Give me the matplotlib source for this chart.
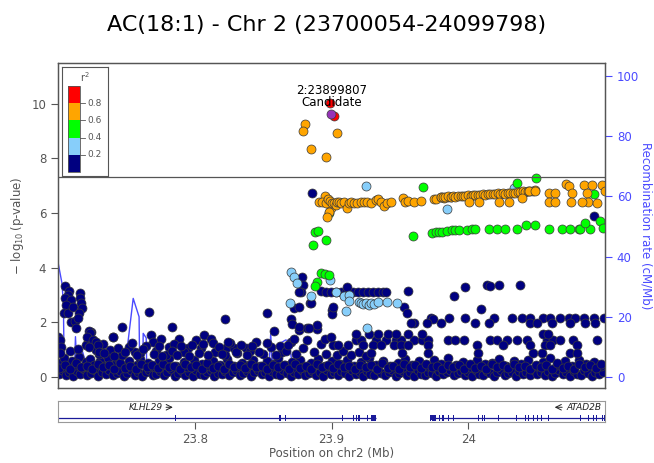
import matplotlib
matplotlib.use("Agg")
import matplotlib.pyplot as plt
from matplotlib.patches import Rectangle

title = "AC(18:1) - Chr 2 (23700054-24099798)"
region = (23.700054, 24.099798)

# r2 colour classes
r2_colors = ["#000080", "#87CEFA", "#00FF00", "#FFA500", "#FF0000"]
r2_ticks = [0.2, 0.4, 0.6, 0.8]

lead_pos = [23.899807]
lead_logp = [9.62]
lead_name = "2:23899807"

red_pos = [23.8988, 23.9017]
red_logp = [10.01, 9.55]

orange_pos = [
    23.8805, 23.8793, 23.9036, 23.8852, 23.8956,
    23.8949, 23.8993, 23.8980, 23.8968,
    23.8907, 23.8932, 23.8956, 23.8973, 23.8988, 23.9005, 23.9017, 23.9029, 23.9042,
    23.9053, 23.9066, 23.9090, 23.9115, 23.9126, 23.9139, 23.9163, 23.9188, 23.9212,
    23.9236, 23.9261, 23.9285, 23.9321, 23.9338, 23.9358, 23.9382, 23.9407, 23.9431,
    23.9525, 23.9535, 23.9560, 23.9600, 23.9650, 23.9745, 23.9766, 23.9801, 23.9822,
    23.9850, 23.9871,
    23.9796, 23.9814, 23.9832, 23.9850, 23.9869, 23.9887, 23.9905, 23.9923, 23.9942,
    23.9960, 23.9978, 23.9996, 24.0015, 24.0033, 24.0051, 24.0069, 24.0088, 24.0106,
    24.0124, 24.0142, 24.0161, 24.0179, 24.0197, 24.0215, 24.0234, 24.0252, 24.0270,
    24.0288, 24.0307, 24.0325, 24.0343, 24.0361, 24.0380, 24.0398, 24.0416, 24.0434,
    24.0453, 24.0471, 24.0489,
    24.0002, 24.0075, 24.0221, 24.0294, 24.0392, 24.0440, 24.0489,
    24.0587, 24.0635, 24.0587, 24.0635, 24.0715, 24.0732, 24.0757, 24.0750,
    24.0842, 24.0903, 24.0976, 24.0865, 24.0877, 24.0939, 24.0829, 24.0995,
]
orange_logp = [
    9.26, 9.01, 8.94, 8.33, 8.04,
    6.63, 6.17, 6.05, 5.87,
    6.39, 6.42, 6.36, 6.50, 6.44, 6.38, 6.35, 6.30, 6.42,
    6.39, 6.36, 6.40, 6.20, 6.35, 6.39, 6.38, 6.36, 6.40,
    6.39, 6.41, 6.37, 6.47, 6.50, 6.40, 6.25, 6.36, 6.40,
    6.55, 6.40, 6.45, 6.40, 6.43, 6.50, 6.53, 6.57, 6.55,
    6.57, 6.58,
    6.57, 6.59, 6.57, 6.61, 6.60, 6.62, 6.60, 6.63, 6.62,
    6.64, 6.63, 6.66, 6.64, 6.66, 6.65, 6.67, 6.66, 6.69,
    6.67, 6.70, 6.68, 6.71, 6.70, 6.72, 6.70, 6.73, 6.71,
    6.74, 6.72, 6.75, 6.74, 6.77, 6.76, 6.79, 6.78, 6.80,
    6.80, 6.82, 6.84,
    6.39, 6.39, 6.39, 6.41, 6.55, 6.80, 6.80,
    6.74, 6.72, 6.41, 6.41, 7.06, 6.99, 6.72, 6.41,
    7.02, 7.02, 7.02, 6.72, 6.39, 6.36, 6.39, 6.80,
]

green_pos = [
    23.9667, 24.0355, 24.0496, 24.0920,
    23.8980, 23.8878, 23.8903, 23.8864, 23.8961, 23.9593,
    23.9735, 23.9760, 23.9785, 23.9808, 23.9844, 23.9881, 23.9905, 23.9929,
    23.9990, 24.0027, 24.0051, 24.0148, 24.0209, 24.0270, 24.0355, 24.0423,
    24.0484, 24.0586, 24.0684, 24.0745, 24.0805, 24.0818, 24.0885, 24.0849,
    24.0958, 24.0983,
    23.8920, 23.8950, 23.8980, 23.8890, 23.8880,
]
green_logp = [
    6.94, 7.11, 7.29, 6.70,
    6.01, 5.29, 5.33, 4.83, 5.01, 5.15,
    5.28, 5.30, 5.30, 5.32, 5.36, 5.38, 5.38, 5.39,
    5.38, 5.40, 5.40, 5.40, 5.41, 5.41, 5.40, 5.55,
    5.55, 5.40, 5.40, 5.40, 5.41, 5.42, 5.40, 5.62,
    5.71, 5.44,
    3.79, 3.77, 3.73, 3.49, 3.33,
]

lightblue_pos = [
    23.9253, 23.9844, 24.0331,
    23.8700, 23.8725, 23.8750, 23.8988, 23.9030, 23.9090, 23.9130, 23.9126,
    23.9197, 23.9215, 23.9233, 23.9250, 23.9270, 23.9290, 23.9310, 23.9336,
    23.9407, 23.9480, 23.8696, 23.8847, 23.9102, 23.9255,
]
lightblue_logp = [
    7.00, 6.15, 6.90,
    3.83, 3.65, 3.45, 3.55, 3.10, 2.96, 3.00, 2.79,
    2.76, 2.70, 2.66, 2.72, 2.63, 2.70, 2.66, 2.76,
    2.76, 2.72, 2.70, 2.96, 2.43, 1.80,
]

# weakly linked SNPs, bottom rows
navy_low_pos = [
    23.7005, 23.7031, 23.7058, 23.7084, 23.7112, 23.7139, 23.7163, 23.7190, 23.7215, 23.7242,
    23.7270, 23.7295, 23.7321, 23.7350, 23.7376, 23.7402, 23.7430, 23.7455, 23.7481, 23.7508,
    23.7536, 23.7560, 23.7588, 23.7613, 23.7640, 23.7668, 23.7694, 23.7720, 23.7747, 23.7773,
    23.7800, 23.7826, 23.7853, 23.7880, 23.7905, 23.7932, 23.7958, 23.7985, 23.8012, 23.8038,
    23.8065, 23.8090, 23.8118, 23.8144, 23.8171, 23.8197, 23.8224, 23.8250, 23.8277, 23.8303,
    23.8330, 23.8356, 23.8383, 23.8410, 23.8436, 23.8462, 23.8489, 23.8515, 23.8542, 23.8568,
    23.8595, 23.8621, 23.8648, 23.8674, 23.8700, 23.8727, 23.8753, 23.8780, 23.8807, 23.8833,
    23.8860, 23.8886, 23.8913, 23.8940, 23.8966, 23.8992, 23.9019, 23.9045, 23.9072, 23.9098,
    23.9125, 23.9151, 23.9178, 23.9204, 23.9231, 23.9257, 23.9284, 23.9310, 23.9337, 23.9363,
    23.9390, 23.9416, 23.9443, 23.9470, 23.9496, 23.9522, 23.9549, 23.9575, 23.9602, 23.9628,
    23.9655, 23.9681, 23.9708, 23.9734, 23.9761, 23.9787, 23.9814, 23.9840, 23.9867, 23.9893,
    23.9920, 23.9946, 23.9973, 24.0000, 24.0026, 24.0053, 24.0079, 24.0106, 24.0132, 24.0159,
    24.0185, 24.0212, 24.0238, 24.0265, 24.0291, 24.0318, 24.0344, 24.0371, 24.0397, 24.0424,
    24.0450, 24.0477, 24.0503, 24.0530, 24.0556, 24.0583, 24.0609, 24.0636, 24.0662, 24.0689,
    24.0715, 24.0742, 24.0768, 24.0795, 24.0821, 24.0848, 24.0874, 24.0901, 24.0927, 24.0954,
    24.0980,
    23.7018, 23.7047, 23.7075, 23.7101, 23.7128, 23.7152, 23.7178, 23.7206, 23.7233, 23.7260,
    23.7310, 23.7338, 23.7365, 23.7418, 23.7445, 23.7497, 23.7522, 23.7575, 23.7602, 23.7655,
    23.7707, 23.7735, 23.7787, 23.7815, 23.7866, 23.7918, 23.7944, 23.7997, 23.8050, 23.8104,
    23.8131, 23.8185, 23.8236, 23.8290, 23.8343, 23.8396, 23.8423, 23.8476, 23.8528, 23.8581,
    23.8608, 23.8660, 23.8713, 23.8766, 23.8794, 23.8846, 23.8900, 23.8953, 23.9006, 23.9058,
    23.9112, 23.9165, 23.9218, 23.9270, 23.9323, 23.9377, 23.9430, 23.9483, 23.9536, 23.9588,
    23.9641, 23.9694, 23.9747, 23.9800, 23.9853, 23.9906, 23.9960, 24.0013, 24.0066, 24.0119,
    24.0172, 24.0225, 24.0278, 24.0330, 24.0384, 24.0437, 24.0490, 24.0543, 24.0596, 24.0649,
    24.0702, 24.0755, 24.0808, 24.0861, 24.0914, 24.0967,
    23.7010, 23.7050, 23.7090, 23.7130, 23.7170, 23.7210, 23.7250, 23.7290, 23.7330, 23.7370,
    23.7410, 23.7450, 23.7490, 23.7530, 23.7570, 23.7610, 23.7650, 23.7690, 23.7730, 23.7770,
    23.7810, 23.7850, 23.7890, 23.7930, 23.7970, 23.8010, 23.8050, 23.8090, 23.8130, 23.8170,
    23.8210, 23.8250, 23.8290, 23.8330, 23.8370, 23.8410, 23.8450, 23.8490, 23.8530, 23.8570,
    23.8610, 23.8650, 23.8690, 23.8730, 23.8770, 23.8810, 23.8850, 23.8890, 23.8930, 23.8970,
    23.9010, 23.9050, 23.9090, 23.9130, 23.9170, 23.9210, 23.9250, 23.9290, 23.9330, 23.9370,
    23.9410, 23.9450, 23.9490, 23.9530, 23.9570, 23.9610, 23.9650, 23.9690, 23.9730, 23.9770,
    23.9810, 23.9850, 23.9890, 23.9930, 23.9970, 24.0010, 24.0050, 24.0090, 24.0130, 24.0170,
    24.0210, 24.0250, 24.0290, 24.0330, 24.0370, 24.0410, 24.0450, 24.0490, 24.0530, 24.0570,
    24.0610, 24.0650, 24.0690, 24.0730, 24.0770, 24.0810, 24.0850, 24.0890, 24.0930, 24.0970,
]
navy_low_logp = [
    0.12, 0.25, 0.08, 0.18, 0.05, 0.22, 0.10, 0.28, 0.06, 0.15,
    0.24, 0.04, 0.19, 0.11, 0.27, 0.07, 0.16, 0.23, 0.05, 0.14,
    0.26, 0.09, 0.20, 0.03, 0.17, 0.25, 0.08, 0.13, 0.21, 0.06,
    0.18, 0.28, 0.04, 0.15, 0.22, 0.09, 0.19, 0.05, 0.24, 0.12,
    0.07, 0.20, 0.27, 0.03, 0.16, 0.11, 0.23, 0.06, 0.18, 0.25,
    0.08, 0.14, 0.21, 0.04, 0.17, 0.26, 0.10, 0.19, 0.05, 0.22,
    0.13, 0.07, 0.24, 0.15, 0.03, 0.20, 0.11, 0.27, 0.06, 0.16,
    0.23, 0.09, 0.18, 0.04, 0.25, 0.12, 0.19, 0.07, 0.22, 0.14,
    0.05, 0.26, 0.10, 0.17, 0.03, 0.21, 0.13, 0.08, 0.24, 0.15,
    0.06, 0.19, 0.27, 0.04, 0.16, 0.22, 0.09, 0.18, 0.05, 0.25,
    0.12, 0.07, 0.20, 0.14, 0.03, 0.23, 0.10, 0.17, 0.26, 0.06,
    0.15, 0.21, 0.08, 0.19, 0.04, 0.24, 0.13, 0.07, 0.22, 0.16,
    0.05, 0.18, 0.27, 0.09, 0.14, 0.20, 0.03, 0.23, 0.11, 0.17,
    0.06, 0.25, 0.12, 0.19, 0.08, 0.21, 0.04, 0.16, 0.26, 0.10,
    0.18, 0.05, 0.22, 0.13, 0.07, 0.24, 0.15, 0.03, 0.20, 0.11,
    0.17,
    0.52, 0.68, 0.41, 0.60, 0.45, 0.72, 0.38, 0.55, 0.66, 0.43,
    0.58, 0.40, 0.70, 0.48, 0.62, 0.39, 0.57, 0.44, 0.65, 0.50,
    0.37, 0.61, 0.46, 0.69, 0.42, 0.56, 0.38, 0.63, 0.47, 0.40,
    0.59, 0.44, 0.66, 0.39, 0.53, 0.45, 0.64, 0.41, 0.58, 0.48,
    0.70, 0.43, 0.55, 0.62, 0.38, 0.51, 0.67, 0.42, 0.57, 0.47,
    0.64, 0.40, 0.54, 0.69, 0.44, 0.60, 0.39, 0.52, 0.66, 0.45,
    0.58, 0.41, 0.63, 0.48, 0.70, 0.43, 0.56, 0.38, 0.61, 0.46,
    0.53, 0.67, 0.42, 0.59, 0.48, 0.64, 0.40, 0.55, 0.69, 0.44,
    0.58, 0.39, 0.62, 0.47, 0.54, 0.41,
    0.33, 0.45, 0.30, 0.50, 0.36, 0.42, 0.31, 0.48, 0.35, 0.44,
    0.29, 0.52, 0.34, 0.41, 0.30, 0.47, 0.36, 0.43, 0.32, 0.49,
    0.35, 0.42, 0.30, 0.46, 0.37, 0.44, 0.31, 0.50, 0.34, 0.41,
    0.29, 0.47, 0.36, 0.43, 0.32, 0.48, 0.35, 0.42, 0.30, 0.45,
    0.37, 0.44, 0.31, 0.49, 0.34, 0.41, 0.29, 0.46, 0.36, 0.43,
    0.32, 0.48, 0.35, 0.42, 0.30, 0.45, 0.37, 0.44, 0.31, 0.50,
    0.34, 0.41, 0.29, 0.47, 0.36, 0.43, 0.32, 0.48, 0.35, 0.42,
    0.30, 0.45, 0.37, 0.44, 0.31, 0.49, 0.34, 0.41, 0.29, 0.46,
    0.36, 0.43, 0.32, 0.48, 0.35, 0.42, 0.30, 0.45, 0.37, 0.44,
    0.31, 0.50, 0.34, 0.41, 0.29, 0.47, 0.36, 0.43, 0.32, 0.48,
]

# weakly linked SNPs standing above the bottom rows
navy_mid_pos = [
    23.7000, 23.7012, 23.7024, 23.7012, 23.7241, 23.7229, 23.7217, 23.7204, 23.7256, 23.7243,
    23.7280, 23.7399, 23.7380, 23.7561, 23.7680, 23.7692, 23.7753, 23.7814, 23.7887, 23.7948,
    23.8010, 23.8047, 23.8071, 23.8120, 23.8131, 23.8228, 23.8288, 23.8312, 23.8372, 23.8221,
    23.7090, 23.7150, 23.7300, 23.7330, 23.7470, 23.7520, 23.7600, 23.7640, 23.7720, 23.7790,
    23.7850, 23.7920, 23.7980, 23.8150, 23.8260, 23.8400, 23.8450, 23.8500, 23.8560, 23.8640,
    23.7224, 23.7236, 23.7209, 23.7253, 23.7277, 23.7290, 23.7229, 23.7301, 23.7338,
    23.7410, 23.7440, 23.7490, 23.7540, 23.7580, 23.7620, 23.7700, 23.7740, 23.7760, 23.7830,
    23.7870, 23.7900, 23.7960, 23.8030, 23.8060, 23.8100, 23.8180, 23.8200, 23.8240, 23.8300,
    23.8340, 23.8380, 23.8420, 23.8470, 23.8530, 23.8590, 23.8620, 23.8670, 23.8700, 23.8740,
    23.8790, 23.8820, 23.8870, 23.8920, 23.8960, 23.9040, 23.9080, 23.9140, 23.9200, 23.9250,
    23.9175, 23.9212, 23.9321, 23.9394, 23.9467, 23.9504, 23.9599, 23.9664, 23.9708, 23.9854,
    23.9905, 23.9964, 24.0161, 24.0212, 24.0285, 24.0358, 24.0431, 24.0577, 24.0620, 24.0672,
    24.0766, 24.0942,
    23.9175, 23.9270, 23.9336, 23.9409, 23.9467, 23.9555, 23.9664, 24.0547, 24.0584,
    23.9007, 23.9044, 23.9117, 23.9226, 23.9299, 23.9358, 23.9453, 23.9504, 23.9555, 23.9701,
    24.0066, 24.0255, 24.0453, 24.0562, 24.0599, 24.0796,
    23.9285, 23.9518, 23.9701, 24.0073, 24.0474, 24.0540, 24.0745, 24.0796,
    23.9723, 23.9856, 23.9978, 24.0185, 24.0319, 24.0392, 24.0448, 24.0542, 24.0599, 24.0672,
    24.0732, 24.0781, 24.0842, 24.0915, 24.0990,
    23.9601, 23.9796, 24.0051, 24.0148, 24.0453, 24.0501, 24.0611, 24.0745, 24.0854, 24.0927,
    24.0093, 23.9898, 23.9978, 24.0136, 24.0160, 24.0222, 24.0380, 24.0920,
    23.8786, 23.8793, 23.8774, 23.8760, 23.8859,
    23.8920, 23.8956, 23.8993, 23.9029, 23.9066, 23.9102, 23.9153, 23.9190, 23.9226, 23.9263,
    23.9299, 23.9336, 23.9372, 23.9394,
    23.9110, 23.9557, 23.9530, 23.9553, 23.9577, 23.8840, 23.8725, 23.8760, 23.8700, 23.8710,
    23.9740, 23.9698, 23.8760, 23.8820, 23.8896, 23.8847, 23.8896, 23.8834, 23.8951, 23.8993,
    23.9005, 23.9000, 23.9012, 23.8684, 23.8725, 23.8760, 23.8531, 23.8579, 23.8221, 23.7837,
    23.7467, 23.7666, 23.7399,
    23.7053, 23.7083, 23.7071, 23.7053, 23.7095, 23.7058, 23.7046, 23.7077, 23.7107, 23.7095,
    23.7126, 23.7131, 23.7161, 23.7161, 23.7168, 23.7175, 23.7156, 23.7144,
]
navy_mid_logp = [
    1.47, 1.35, 1.11, 0.87, 1.66, 1.47, 1.29, 1.17, 1.35, 1.17,
    0.99, 1.45, 0.99, 0.93, 1.54, 1.29, 1.38, 1.11, 1.41, 1.05,
    1.35, 1.05, 1.54, 1.41, 1.23, 1.05, 1.05, 0.87, 1.05, 0.80,
    0.95, 1.02, 0.85, 1.20, 0.82, 1.10, 0.88, 1.15, 0.95, 0.82,
    1.22, 0.90, 1.18, 0.90, 1.25, 0.95, 1.30, 0.85, 1.10, 0.92,
    1.68, 1.60, 1.47, 1.35, 1.29, 1.17, 1.11, 0.93, 0.87,
    0.78, 1.05, 0.92, 1.25, 0.80, 1.02, 0.85, 1.12, 0.78, 0.95,
    0.80, 1.15, 0.78, 0.88, 1.20, 0.80, 1.10, 0.85, 1.30, 0.92,
    1.18, 0.80, 1.12, 0.90, 1.25, 0.82, 1.15, 0.95, 1.30, 0.85,
    1.05, 1.35, 0.90, 1.20, 0.85, 0.80, 0.95, 0.80, 0.92, 0.78,
    1.35, 1.35, 1.35, 1.35, 1.35, 1.35, 1.35, 1.35, 1.35, 1.35,
    1.35, 1.35, 1.35, 1.35, 1.35, 1.35, 1.35, 1.35, 1.35, 1.35,
    1.35, 1.35,
    1.57, 1.57, 1.57, 1.57, 1.57, 1.57, 1.57, 1.57, 1.57,
    1.17, 1.17, 1.17, 1.17, 1.17, 1.17, 1.17, 1.17, 1.17, 1.17,
    1.17, 1.17, 1.17, 1.17, 1.17, 1.17,
    0.88, 0.88, 0.88, 0.88, 0.88, 0.88, 0.88, 0.88,
    2.17, 2.17, 2.17, 2.17, 2.17, 2.17, 2.17, 2.17, 2.17, 2.17,
    2.17, 2.17, 2.17, 2.17, 2.17,
    1.96, 1.96, 1.96, 1.96, 1.96, 1.96, 1.96, 1.96, 1.96, 1.96,
    2.48, 2.96, 3.30, 3.37, 3.33, 3.37, 3.37, 5.89,
    3.67, 3.37, 3.10, 3.12, 6.74,
    3.16, 3.12, 3.10, 3.10, 3.10, 3.10, 3.10, 3.10, 3.10, 3.10,
    3.10, 3.10, 3.10, 3.10,
    3.30, 3.16, 2.57, 2.33, 1.96, 2.72, 2.51, 2.57, 2.11, 1.94,
    2.11, 1.96, 1.72, 1.78, 1.74, 2.70, 1.90, 1.78, 1.41, 1.47,
    2.45, 2.30, 2.57, 1.17, 1.41, 1.84, 2.35, 1.69, 2.11, 1.84,
    1.84, 2.39, 1.45,
    3.33, 3.16, 3.00, 2.88, 2.82, 2.63, 2.33, 2.35, 2.57, 2.02,
    2.06, 1.78, 3.06, 2.88, 2.70, 2.51, 2.33, 2.15,
]

# recombination rate (cM/Mb)
recomb_pos = [
    23.7001, 23.7030, 23.7040, 23.7046, 23.7120, 23.7128, 23.7136, 23.7155, 23.7180,
    23.7195, 23.7217, 23.7480, 23.7484, 23.7550, 23.7593, 23.7598, 23.7620, 23.7623,
    23.7645, 23.7650, 23.8540, 23.8555, 23.8565, 23.8580, 23.8664, 23.8688, 23.8710,
    23.8730, 23.9110, 23.9125, 23.9140, 23.9160, 24.0300, 24.0997,
]
recomb_rate = [
    38.0, 31.0, 24.0, 1.0, 1.0, 13.4, 6.0, 4.0, 8.4,
    6.0, 0.5, 0.5, 1.0, 26.1, 20.0, 0.5, 0.5, 14.5,
    13.0, 0.5, 0.5, 14.5, 4.0, 10.0, 12.3, 12.0, 5.0,
    0.5, 0.5, 6.6, 6.6, 0.5, 0.3, 0.3,
]

# genes in the region
genes = ["KLHL29", "ATAD2B"]
gene_spans = [(23.700054, 23.9324), (23.9723, 24.099798)]
klhl29_exons = [23.7857, 23.8623, 23.8663, 23.9080, 23.9160, 23.9180, 23.9200,
                23.9264, 23.9290, 23.9300, 23.9310, 23.9320]
atad2b_exons = [23.9723, 23.9735, 23.9748, 23.9760, 23.9788, 23.9814, 23.9853,
                23.9892, 24.0075, 24.0101, 24.0120, 24.0219, 24.0350, 24.0416,
                24.0442, 24.0473, 24.0507, 24.0533, 24.0585, 24.0821, 24.0874,
                24.0912, 24.0939, 24.0978, 24.0995]

grey = "#555555"
rcol = "#4a4aff"
ymax_left = 11.5
ymin_left = -0.4
scale = 9.07  # recomb units per -log10(p) unit

fig = plt.figure(figsize=(6.54, 4.63), dpi=100)
fig.text(0.5, 0.945, title, ha="center", va="center", fontsize=16)

ax = fig.add_axes([0.0887, 0.162, 0.8364, 0.7026])
ax2 = ax.twinx()

ax2.plot(recomb_pos, recomb_rate, color=rcol, lw=1.0)
ax2.set_ylim(ymin_left * scale, ymax_left * scale)
ax2.set_yticks([0, 20, 40, 60, 80, 100])
ax2.tick_params(axis="y", colors=rcol, labelsize=8.5, length=5, width=0.8)
ax2.set_ylabel("Recombination rate (cM/Mb)", color=rcol, fontsize=8.5,
               rotation=270, va="center", ha="center")
ax2.yaxis.set_label_coords(1.075, 0.5)

ax.set_zorder(ax2.get_zorder() + 1)
ax.patch.set_visible(False)

pt = dict(s=42, edgecolors="#3a3a3a", linewidths=0.5)
ax.scatter(navy_low_pos, navy_low_logp, c=r2_colors[0], **pt)
ax.scatter(navy_mid_pos, navy_mid_logp, c=r2_colors[0], **pt)
ax.scatter(lightblue_pos, lightblue_logp, c=r2_colors[1], **pt)
ax.scatter(green_pos, green_logp, c=r2_colors[2], **pt)
ax.scatter(orange_pos, orange_logp, c=r2_colors[3], **pt)
ax.scatter(red_pos, red_logp, c=r2_colors[4], **pt)
ax.scatter(lead_pos, lead_logp, c="#9632b8", **pt)
ax.text(lead_pos[0], 10.48, lead_name, ha="center", va="center", fontsize=8.5)
ax.text(lead_pos[0], 10.04, "Candidate", ha="center", va="center", fontsize=8.5)

ax.axhline(7.30103, color=grey, lw=0.9)

ax.set_xlim(*region)
ax.set_ylim(ymin_left, ymax_left)
ax.set_yticks([0, 2, 4, 6, 8, 10])
ax.set_xticks([])
ax.tick_params(axis="y", colors=grey, labelsize=8.5, length=5, width=0.8)
ax.set_ylabel(r"$-\ \log_{10}$(p-value)", color=grey, fontsize=8.5)
for a in (ax, ax2):
    for sp in a.spines.values():
        sp.set_color(grey)
        sp.set_linewidth(0.9)

# r2 legend box
leg = fig.add_axes([0.0948, 0.6199, 0.0703, 0.2354])
leg.set_xlim(0, 1)
leg.set_ylim(0, 1)
leg.set_xticks([])
leg.set_yticks([])
for sp in leg.spines.values():
    sp.set_color(grey)
    sp.set_linewidth(0.8)
y0, seg = 0.037, 0.1578
for i, col in enumerate(r2_colors):
    leg.add_patch(Rectangle((0.13, y0 + i * seg), 0.26, seg, facecolor=col,
                            edgecolor="none"))
leg.add_patch(Rectangle((0.13, y0), 0.26, 5 * seg, facecolor="none",
                        edgecolor=grey, lw=0.6))
for t in r2_ticks:
    yy = y0 + t * 5 * seg
    leg.plot([0.39, 0.5], [yy, yy], color=grey, lw=0.6)
    leg.text(0.56, yy, f"{t:.1f}", color=grey, fontsize=6.5, va="center")
leg.text(0.5, 0.91, r"r$^2$", color=grey, fontsize=7, ha="center", va="center")

# gene track
gx = fig.add_axes([0.0887, 0.0886, 0.8364, 0.0454])
gx.set_xlim(*region)
gx.set_ylim(0, 1)
gx.set_yticks([])
for sp in gx.spines.values():
    sp.set_color("#999999")
    sp.set_linewidth(0.8)
gcol = "#1a1a99"
for g0, g1 in gene_spans:
    gx.plot([g0, g1], [0.2, 0.2], color=gcol, lw=0.9, solid_capstyle="butt")
for ex in klhl29_exons + atad2b_exons:
    gx.add_patch(Rectangle((ex - 0.0004, 0.06), 0.0008, 0.28, facecolor=gcol,
                           edgecolor="none"))
gx.add_patch(Rectangle((23.9723, 0.08), 0.0040, 0.24, facecolor=gcol, edgecolor="none"))
gx.text(23.7765, 0.7, genes[0], fontstyle="italic", fontsize=6.5, ha="right",
        va="center", color="#222222")
gx.annotate("", xy=(23.7860, 0.7), xytext=(23.7770, 0.7),
            arrowprops=dict(arrowstyle="->", lw=0.7, color="#222222"))
gx.text(24.0718, 0.7, genes[1], fontstyle="italic", fontsize=6.5, ha="left",
        va="center", color="#222222")
gx.annotate("", xy=(24.0610, 0.7), xytext=(24.0705, 0.7),
            arrowprops=dict(arrowstyle="->", lw=0.7, color="#222222"))

gx.set_xticks([23.8, 23.9, 24.0])
gx.set_xticklabels(["23.8", "23.9", "24"])
gx.tick_params(axis="x", colors=grey, labelsize=8.5, length=5, width=0.8, pad=3)
gx.set_xlabel("Position on chr2 (Mb)", color=grey, fontsize=8.5, labelpad=1)

fig.savefig("out.png", dpi=100)
